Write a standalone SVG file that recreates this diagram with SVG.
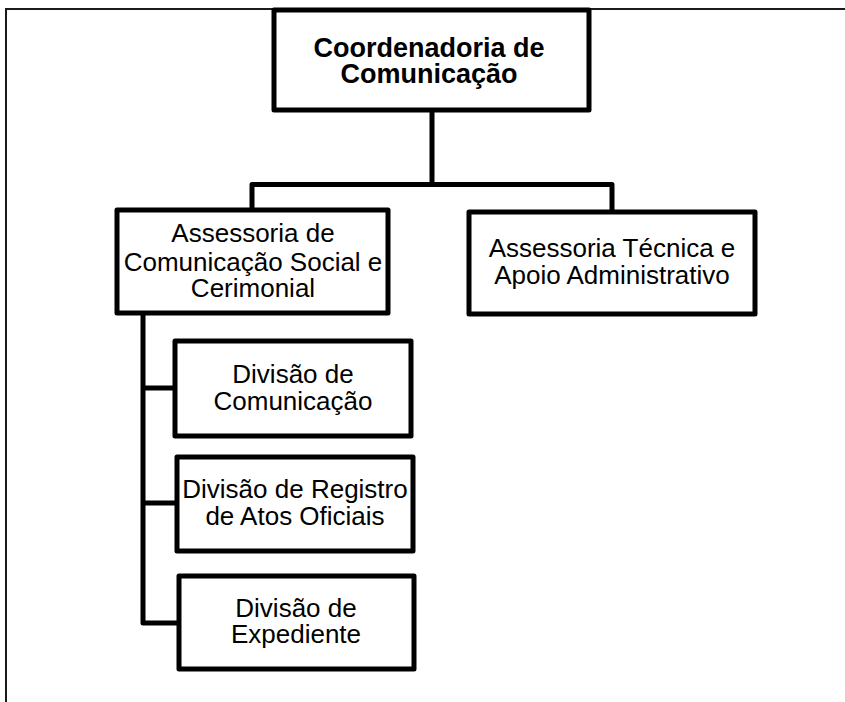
<svg xmlns="http://www.w3.org/2000/svg" width="845" height="702" viewBox="0 0 845 702">
<style>
.box{fill:#fff;stroke:#000;stroke-width:5;stroke-linejoin:round}
.ln{fill:none;stroke:#000;stroke-width:5;stroke-linejoin:round}
.frame{fill:none;stroke:#1a1a1a;stroke-width:2}
text{font-family:"Liberation Sans",Arial,sans-serif;font-size:26px;fill:#000;text-anchor:middle}
.b{font-weight:bold;font-size:27px}
</style>
<rect width="845" height="702" fill="#fff"/>
<path class="frame" d="M6 702 V9 H845"/>
<g id="connectors">
<path class="ln" d="M432 110 V184.5"/>
<path class="ln" d="M252 210 V184.5 H612 V212"/>
<path class="ln" d="M143 313 V623 H179"/>
<path class="ln" d="M143 388 H175"/>
<path class="ln" d="M143 503 H177"/>
</g>
<g id="n1">
<rect class="box" x="274" y="10" width="315" height="100"/>
<text class="b" x="429" y="57">Coordenadoria de</text>
<text class="b" x="429" y="83">Comunicação</text>
</g>
<g id="n2">
<rect class="box" x="117" y="210" width="271" height="103"/>
<text x="253" y="242">Assessoria de</text>
<text x="253" y="271">Comunicação Social e</text>
<text x="253" y="297">Cerimonial</text>
</g>
<g id="n3">
<rect class="box" x="469" y="212" width="286" height="102"/>
<text x="612" y="257">Assessoria Técnica e</text>
<text x="612" y="284">Apoio Administrativo</text>
</g>
<g id="n4">
<rect class="box" x="175" y="341" width="236" height="95"/>
<text x="293" y="383">Divisão de</text>
<text x="293" y="410">Comunicação</text>
</g>
<g id="n5">
<rect class="box" x="177" y="457" width="236" height="94"/>
<text x="295" y="498">Divisão de Registro</text>
<text x="295" y="525">de Atos Oficiais</text>
</g>
<g id="n6">
<rect class="box" x="179" y="576" width="235" height="93"/>
<text x="296" y="617">Divisão de</text>
<text x="296" y="643">Expediente</text>
</g>
</svg>
